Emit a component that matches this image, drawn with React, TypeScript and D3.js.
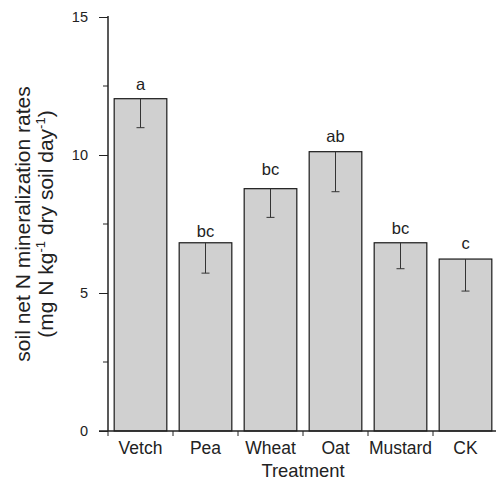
import React, { useEffect, useRef } from "react";
import { select, scaleBand, scaleLinear, axisBottom, axisLeft, range } from "d3";

// treatments on the x axis
const treatments = ["Vetch", "Pea", "Wheat", "Oat", "Mustard", "CK"];
// mean net N mineralization rates
const means = [12.04, 6.82, 8.78, 10.12, 6.82, 6.23];
// lower end of each error bar
const lows = [10.99, 5.72, 7.74, 8.67, 5.88, 5.07];
// significance letters and the level (in data units) they sit at
const letters = ["a", "bc", "bc", "ab", "bc", "c"];
const letterLevels = [12.37, 7.02, 9.28, 10.48, 7.14, 6.59];
const yTicks = [0, 5, 10, 15];
const yMinorTicks = [2.5, 7.5, 12.5];

const W = 496;
const H = 482;
const FONT = "'Liberation Sans', Arial, sans-serif";

function App() {
  const svgRef = useRef<SVGSVGElement>(null);

  useEffect(() => {
    const svg = select(svgRef.current);
    svg.selectAll("*").remove();

    const left = 108;
    const top = 17;
    const bottom = 431;

    const x = scaleBand()
      .domain(treatments)
      .range([left, left + 6 * 65])
      .paddingInner(0.19)
      .paddingOuter(0.095);

    const y = scaleLinear().domain([0, 15]).range([bottom, top]);

    const data = treatments.map((t, i) => ({
      t,
      mean: means[i],
      low: lows[i],
      letter: letters[i],
      level: letterLevels[i],
    }));

    // bars
    svg
      .append("g")
      .selectAll("rect")
      .data(data)
      .join("rect")
      .attr("x", (d) => x(d.t)!)
      .attr("width", x.bandwidth())
      .attr("y", (d) => y(d.mean))
      .attr("height", (d) => y(0) - y(d.mean))
      .attr("fill", "#d0d0d0")
      .attr("stroke", "#1a1a1a")
      .attr("stroke-width", 1.2);

    // error bars (lower whisker only)
    const err = svg.append("g").attr("stroke", "#333").attr("stroke-width", 1);
    err
      .selectAll("line.v")
      .data(data)
      .join("line")
      .attr("class", "v")
      .attr("x1", (d) => x(d.t)! + x.bandwidth() / 2)
      .attr("x2", (d) => x(d.t)! + x.bandwidth() / 2)
      .attr("y1", (d) => y(d.mean))
      .attr("y2", (d) => y(d.low));
    err
      .selectAll("line.cap")
      .data(data)
      .join("line")
      .attr("class", "cap")
      .attr("x1", (d) => x(d.t)! + x.bandwidth() / 2 - 4)
      .attr("x2", (d) => x(d.t)! + x.bandwidth() / 2 + 4)
      .attr("y1", (d) => y(d.low))
      .attr("y2", (d) => y(d.low));

    // letters
    svg
      .append("g")
      .selectAll("text")
      .data(data)
      .join("text")
      .attr("x", (d) => x(d.t)! + x.bandwidth() / 2)
      .attr("y", (d) => y(d.level))
      .attr("text-anchor", "middle")
      .attr("font-family", FONT)
      .attr("font-size", 16.5)
      .attr("fill", "#222")
      .text((d) => d.letter);

    // y axis
    const yAxis = svg
      .append("g")
      .attr("transform", `translate(${left},0)`)
      .call(axisLeft(y).tickValues(yTicks).tickSize(9).tickPadding(11));
    yAxis.select(".domain").attr("stroke", "#222").attr("stroke-width", 1.5).attr("d", `M0,${bottom}V${top - 1}`);
    yAxis.selectAll(".tick line").attr("stroke", "#222");
    yAxis
      .selectAll(".tick text")
      .attr("font-family", FONT)
      .attr("font-size", 14.5)
      .attr("fill", "#222");
    yAxis
      .selectAll("line.minor")
      .data(yMinorTicks)
      .join("line")
      .attr("class", "minor")
      .attr("x1", -5)
      .attr("x2", 0)
      .attr("y1", (d) => y(d))
      .attr("y2", (d) => y(d))
      .attr("stroke", "#222");

    // x axis: ticks at band boundaries
    const xAxis = svg.append("g").attr("transform", `translate(0,${bottom})`);
    xAxis
      .append("line")
      .attr("x1", left - 9)
      .attr("x2", W)
      .attr("stroke", "#222")
      .attr("stroke-width", 1.5);
    xAxis
      .selectAll("line.tick")
      .data(range(treatments.length))
      .join("line")
      .attr("class", "tick")
      .attr("x1", (i) => x(treatments[i])! - (x.step() - x.bandwidth()) / 2)
      .attr("x2", (i) => x(treatments[i])! - (x.step() - x.bandwidth()) / 2)
      .attr("y1", 0)
      .attr("y2", 5)
      .attr("stroke", "#222");
    const xLabels = svg
      .append("g")
      .attr("transform", `translate(0,${bottom})`)
      .call(axisBottom(x).tickSize(0).tickPadding(0));
    xLabels.select(".domain").remove();
    xLabels
      .selectAll(".tick text")
      .attr("dy", null)
      .attr("y", 23)
      .attr("font-family", FONT)
      .attr("font-size", 17.5)
      .attr("fill", "#222");

    // axis titles
    svg
      .append("text")
      .attr("x", 303)
      .attr("y", 477)
      .attr("text-anchor", "middle")
      .attr("font-family", FONT)
      .attr("font-size", 18.4)
      .attr("fill", "#222")
      .text("Treatment");

    const yTitle = svg
      .append("text")
      .attr("transform", `translate(0,${(top + bottom) / 2}) rotate(-90)`)
      .attr("text-anchor", "middle")
      .attr("font-family", FONT)
      .attr("font-size", 21)
      .attr("fill", "#222");
    yTitle.append("tspan").attr("x", 0).attr("y", 30).text("soil net N mineralization rates");
    const l2 = yTitle.append("tspan").attr("x", 0).attr("y", 53);
    l2.append("tspan").text("(mg N kg");
    l2.append("tspan").attr("font-size", 13).attr("dy", -8).text("-1");
    l2.append("tspan").attr("dy", 8).text(" dry soil day");
    l2.append("tspan").attr("font-size", 13).attr("dy", -8).text("-1");
    l2.append("tspan").attr("dy", 8).text(")");
  }, []);

  return (
    <svg
      ref={svgRef}
      width={W}
      height={H}
      style={{ position: "absolute", left: 0, top: 0, background: "#fff" }}
    />
  );
}

export default App;
